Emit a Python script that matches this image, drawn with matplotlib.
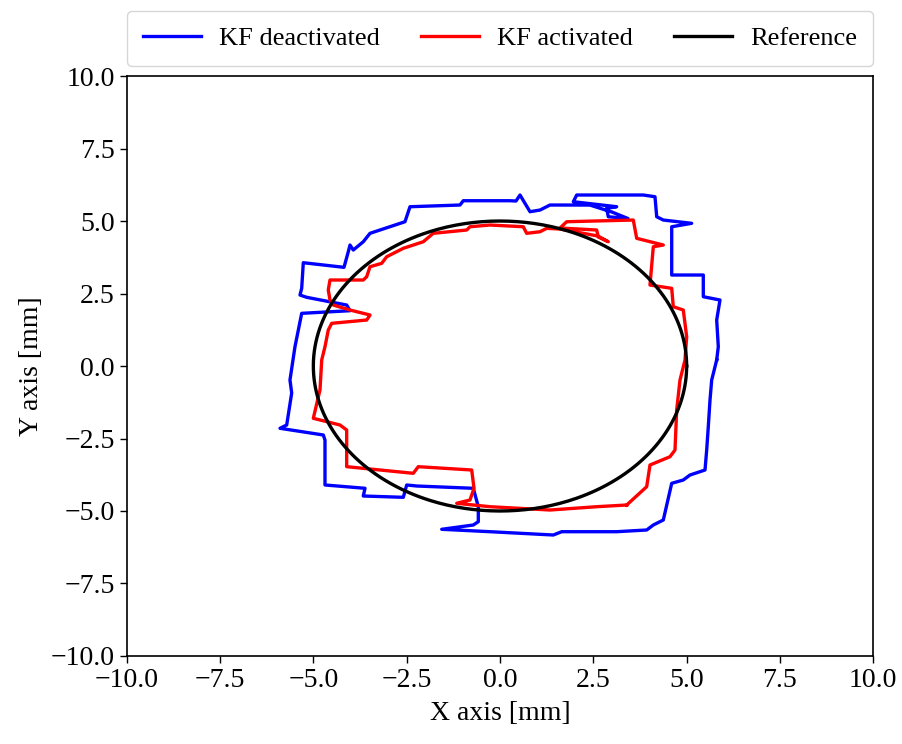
import numpy as np
import matplotlib
matplotlib.use("Agg")
import matplotlib.pyplot as plt

plt.rcParams['font.family'] = ['Liberation Serif', 'DejaVu Serif']
plt.rcParams['mathtext.fontset'] = 'stix'

# trajectory without Kalman filter (x, y in mm)
kf_off_x = [5.805, 5.848, 5.805, 5.893, 5.446, 5.446, 4.600, 4.600, 5.135, 4.375,
            4.198, 4.152, 3.839, 2.055, 1.964, 3.126, 2.858, 2.901, 3.429, 3.000,
            2.410, 1.339, 1.072, 0.804, 0.536, 0.429, 0.268, -0.983, -1.072, -2.411,
            -2.545, -3.482, -3.662, -3.930, -4.018, -4.064, -4.179, -5.269, -5.312, -5.358,
            -5.178, -4.107, -4.018, -5.312, -5.492, -5.626, -5.580, -5.714, -5.893, -4.733,
            -4.688, -4.688, -3.616, -3.662, -2.590, -2.499, -2.231, -0.715, -0.581, -0.581,
            -0.715, -1.562, -0.268, 1.428, 1.653, 3.126, 3.930, 4.107, 4.375, 4.600,
            4.910, 5.090, 5.492, 5.537, 5.580, 5.626, 5.671, 5.805]
kf_off_y = [0.207, 0.666, 1.586, 2.276, 2.390, 3.138, 3.138, 4.803, 4.921, 5.034,
            5.148, 5.838, 5.897, 5.897, 5.666, 5.493, 5.438, 5.148, 5.086, 5.310,
            5.550, 5.552, 5.379, 5.321, 5.897, 5.690, 5.700, 5.700, 5.552, 5.493,
            4.976, 4.576, 4.286, 4.000, 4.172, 3.941, 3.403, 3.562, 2.679, 2.448,
            2.369, 2.103, 1.907, 1.817, 0.666, -0.483, -0.931, -2.034, -2.148, -2.379,
            -2.552, -4.103, -4.217, -4.483, -4.528, -4.103, -4.138, -4.217, -4.852, -5.369,
            -5.483, -5.631, -5.714, -5.828, -5.714, -5.714, -5.655, -5.483, -5.310, -4.045,
            -3.931, -3.759, -3.586, -2.897, -2.093, -1.172, -0.483, 0.207]

# trajectory with Kalman filter (x, y in mm)
kf_on_x = [3.394, 3.930, 4.018, 4.554, 4.688, 4.733, 4.822, 4.956, 5.001, 4.910,
           4.642, 4.600, 4.018, 4.107, 4.375, 3.662, 3.571, 1.787, 1.607, 2.590,
           2.633, 2.901, 2.625, 1.607, 1.251, 1.072, 0.715, 0.624, -0.268, -0.804,
           -0.892, -1.787, -2.055, -2.590, -3.035, -3.169, -3.482, -3.571, -3.662, -4.554,
           -4.600, -4.554, -4.466, -4.018, -3.482, -3.571, -4.508, -4.600, -4.688, -4.776,
           -4.822, -5.001, -4.286, -4.107, -4.107, -3.215, -2.323, -2.189, -0.758, -0.696,
           -0.804, -1.160, -0.268, 1.339, 2.590, 3.394]
kf_on_y = [-4.793, -4.162, -3.414, -3.128, -2.897, -1.517, -0.483, 0.207, 1.010, 1.931,
           2.045, 2.679, 2.793, 4.114, 4.172, 4.403, 5.034, 4.976, 4.759, 4.690,
           4.448, 4.286, 4.483, 4.724, 4.748, 4.631, 4.576, 4.803, 4.862, 4.803,
           4.690, 4.576, 4.286, 4.059, 3.769, 3.541, 3.424, 3.079, 2.966, 2.966,
           2.621, 2.276, 2.103, 1.931, 1.759, 1.586, 1.472, 1.241, 0.666, 0.207,
           -0.828, -1.803, -2.034, -2.207, -3.472, -3.586, -3.700, -3.472, -3.586, -4.217,
           -4.621, -4.734, -4.852, -4.966, -4.852, -4.793]

# reference circle
ref_radius = 5.0
ref_center = (0.0, 0.0)
theta = np.linspace(0, 2 * np.pi, 400)
ref_x = ref_center[0] + ref_radius * np.cos(theta)
ref_y = ref_center[1] + ref_radius * np.sin(theta)

fig = plt.figure(figsize=(9.03, 7.44), dpi=100)
ax = fig.add_axes([0.1403, 0.1183, 0.8268, 0.7795])

ax.plot(kf_off_x, kf_off_y, color='blue', lw=2.4, label='KF deactivated')
ax.plot(kf_on_x, kf_on_y, color='red', lw=2.4, label='KF activated')
ax.plot(ref_x, ref_y, color='black', lw=2.4, label='Reference')

ax.set_xlim(-10, 10)
ax.set_ylim(-10, 10)
ax.set_xticks(np.arange(-10, 10.1, 2.5))
ax.set_yticks(np.arange(-10, 10.1, 2.5))
ax.tick_params(labelsize=20, length=5, width=1)
ax.set_xlabel('X axis [mm]', fontsize=20, labelpad=6)
ax.set_ylabel('Y axis [mm]', fontsize=20, labelpad=5)
for s in ax.spines.values():
    s.set_linewidth(1.2)

ax.legend(loc='lower left', bbox_to_anchor=(0, 1.017, 1, 0.1), mode='expand',
          ncol=3, borderaxespad=0, fontsize=19, handlelength=2.2, borderpad=0.6,
          handletextpad=0.7, frameon=True, edgecolor='#cccccc')

fig.savefig('out.png', dpi=100)
